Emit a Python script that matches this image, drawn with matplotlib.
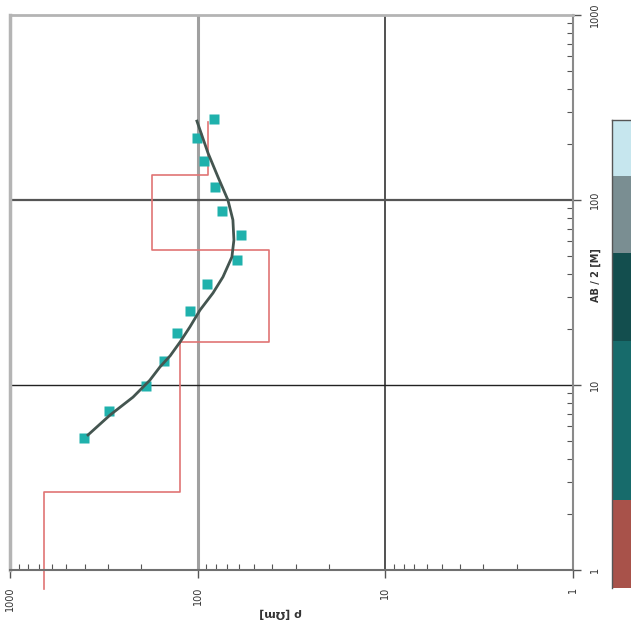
import matplotlib
matplotlib.use('Agg')
import matplotlib.pyplot as plt
import numpy as np

# measured apparent resistivity (AB/2 [m], rho [ohm m])
meas_ab2 = [5.2, 7.2, 9.9, 13.5, 19.1, 25.1, 35.2, 47.4, 64.7, 87.2, 117.5, 162, 216, 274]
meas_rho = [403, 297, 188, 151, 129, 110, 89.2, 61.8, 58.8, 74.3, 80.9, 92.5, 101, 81.9]

# model response curve
fit_ab2 = [5.37, 6.88, 8.6, 10.6, 12.5, 14.4, 17.1, 20.6, 25.4, 31.4, 38.4, 49.2,
           60.8, 78, 100, 133, 179.5, 267]
fit_rho = [384, 293, 221, 180, 159, 140, 124, 110, 97.2, 82.9, 73.3, 65.7,
           64.1, 64.9, 69.0, 77.9, 88.1, 100.9]

# layered model (from shallow to deep)
layer_rho = [659, 124, 41.7, 175, 88]
layer_bounds = [0.79, 2.64, 17.1, 53.7, 136, 264]

# layer column colours and bounds
col_bounds = [0.8, 2.4, 17.3, 52, 134, 270]
col_colors = ['#a8524a', '#176b6b', '#134e4e', '#7a8e92', '#c6e6ee']

W, H = 631, 630
fig = plt.figure(figsize=(W / 100, H / 100), dpi=100)
ax = fig.add_axes([10 / W, 1 - 570 / H, 563 / W, 555 / H])

ax.set_xscale('log')
ax.set_yscale('log')
ax.set_xlim(1000, 1)
ax.set_ylim(1, 1000)

# grid lines
ax.axvline(100, color='#a0a0a0', lw=2.2, zorder=1)
ax.axvline(10, color='#222222', lw=1.1, zorder=1)
ax.axhline(100, color='#555555', lw=1.6, zorder=1)
ax.axhline(10, color='#222222', lw=1.0, zorder=1)

# layered model as step line
sx, sy = [], []
for i, r in enumerate(layer_rho):
    sx += [r, r]
    sy += [layer_bounds[i], layer_bounds[i + 1]]
ax.plot(sx, sy, color='#e07474', lw=1.2, zorder=2, clip_on=False)

ax.plot(meas_rho, meas_ab2, 's', color='#1fb1ac', ms=7, mec='none', zorder=3)
ax.plot(fit_rho, fit_ab2, color='#445550', lw=2, zorder=4)

# spines
ax.spines['left'].set_color('#b4b4b4')
ax.spines['left'].set_linewidth(2.5)
ax.spines['top'].set_color('#b4b4b4')
ax.spines['top'].set_linewidth(2)
ax.spines['right'].set_color('#8a8a8a')
ax.spines['right'].set_linewidth(1.5)
ax.spines['bottom'].set_color('#707070')
ax.spines['bottom'].set_linewidth(1.5)

ax.yaxis.tick_right()
ax.set_xticks([1000, 100, 10, 1])
ax.set_xticklabels(['1000', '100', '10', '1'])
ax.set_yticks([1, 10, 100, 1000])
ax.set_yticklabels(['1', '10', '100', '1000'])
ax.tick_params(which='major', direction='out', length=6, width=1, color='#555555',
               labelsize=7, labelcolor='#333333')
ax.tick_params(which='minor', direction='in', length=4, width=0.8, color='#555555')
ax.tick_params(axis='x', labelrotation=90, pad=6)
ax.tick_params(axis='y', labelrotation=90, pad=6)
for lab in ax.get_xticklabels():
    lab.set_va('top')
for lab in ax.get_yticklabels():
    lab.set_va('center')

fig.text(596 / W, 1 - 275 / H, 'AB / 2 [M]', rotation=90, ha='center', va='center',
         fontsize=7, fontweight='bold', color='#333333')
fig.text(281 / W, 1 - 613 / H, 'ρ [Ωm]', rotation=180, ha='center', va='center',
         fontsize=8, fontweight='bold', color='#333333')

# layer column
ax2 = fig.add_axes([612 / W, 1 - 570 / H, 30 / W, 555 / H])
ax2.set_yscale('log')
ax2.set_ylim(1, 1000)
ax2.set_xlim(0, 1)
for i, c in enumerate(col_colors):
    ax2.axhspan(col_bounds[i], col_bounds[i + 1], color=c, clip_on=False, lw=0)
ax2.plot([0, 0], [col_bounds[0], col_bounds[-1]], color='#555555', lw=1, clip_on=False)
ax2.plot([0, 1], [col_bounds[-1], col_bounds[-1]], color='#555555', lw=1, clip_on=False)
ax2.axis('off')

fig.savefig('out.png', dpi=100)
